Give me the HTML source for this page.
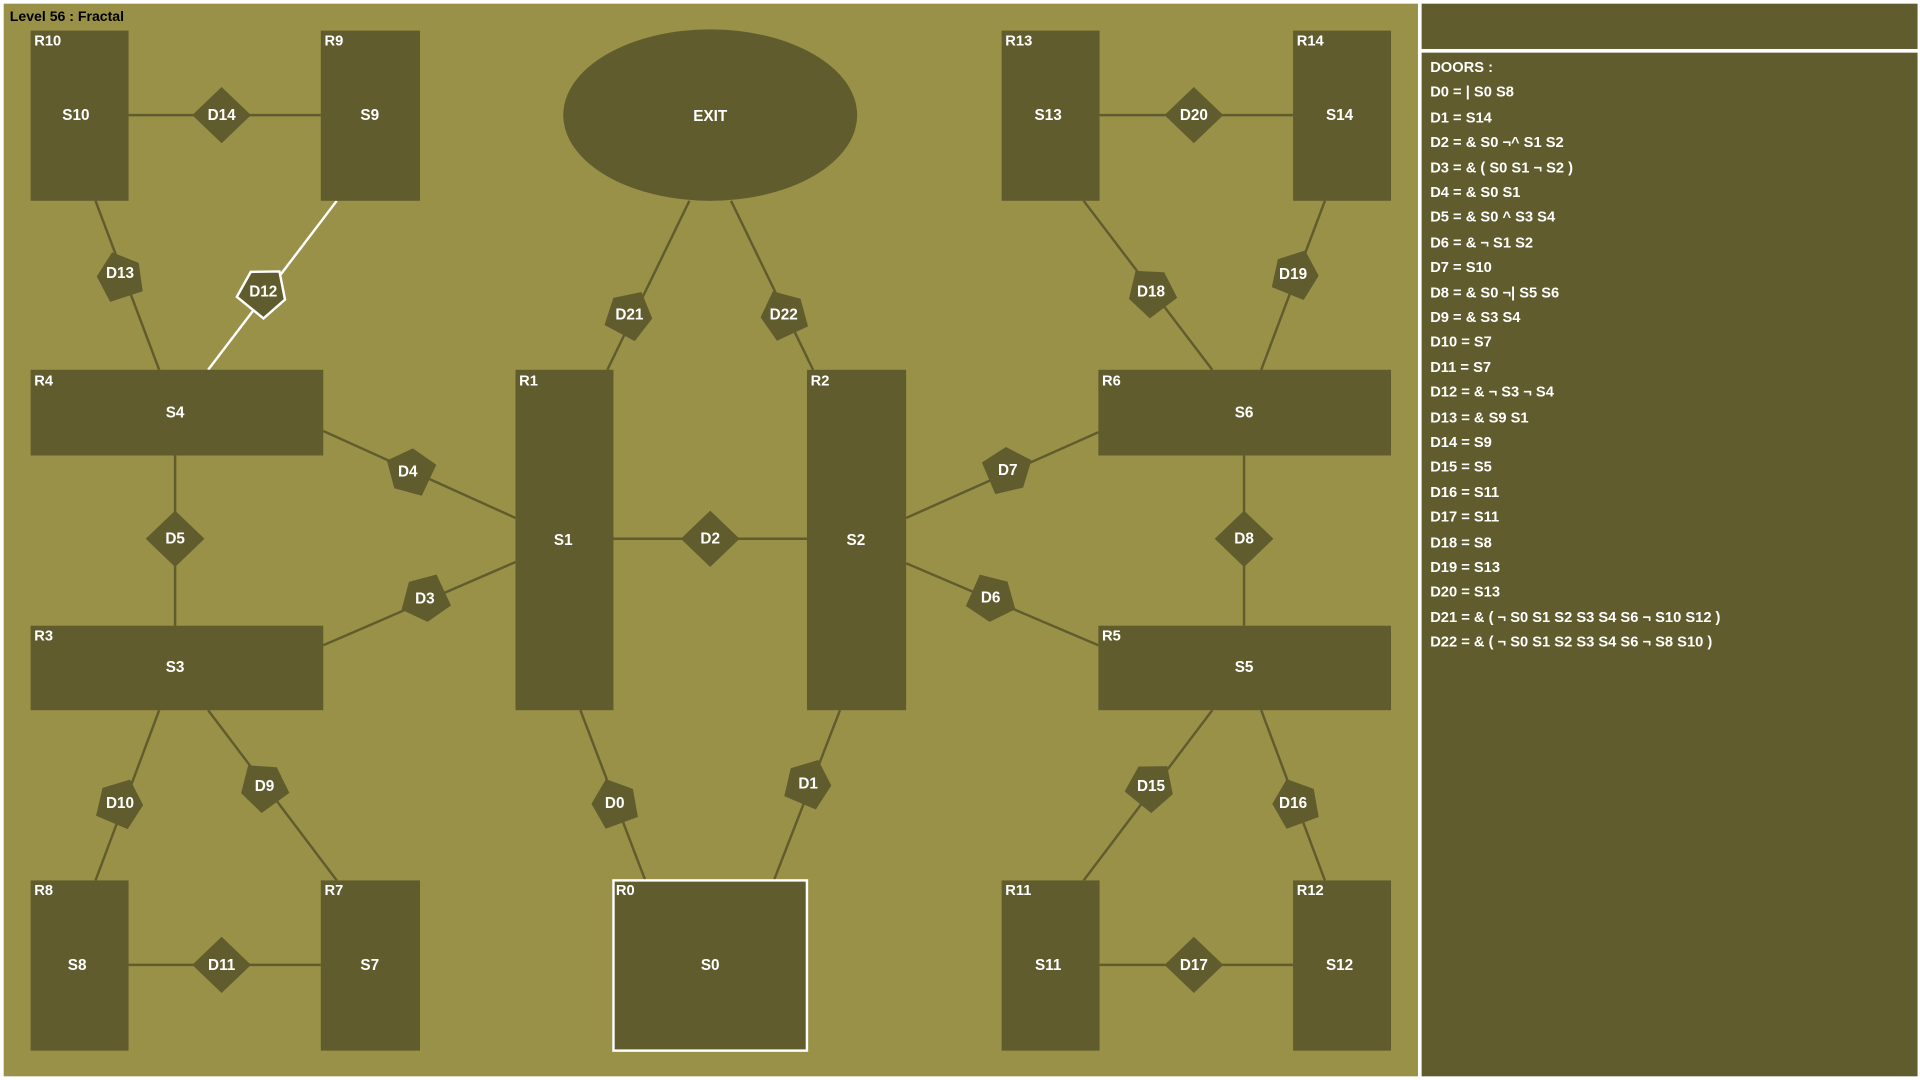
<!DOCTYPE html>
<html><head><meta charset="utf-8"><style>
html,body{margin:0;padding:0;background:#fff;width:1920px;height:1080px;overflow:hidden}
svg{display:block}
text{font-family:"Liberation Sans",sans-serif;font-weight:bold;fill:#fff}
</style></head><body>
<svg width="1920" height="1080" viewBox="0 0 1568 882" xmlns="http://www.w3.org/2000/svg">
<defs>
<path id="p" d="M21,0 L6,-18 L-17,-14 L-17,14 L6,18 Z" fill="#615c2e"/>
<path id="pw" d="M21,0 L6,-18 L-17,-14 L-17,14 L6,18 Z" fill="#615c2e" stroke="#fff" stroke-width="2"/>
<path id="d" d="M0,-23 L24,0 L0,23 L-24,0 Z" fill="#615c2e"/>
</defs>
<rect x="0" y="0" width="1568" height="882" fill="#fff"/>
<rect x="3" y="3" width="1155" height="876" fill="#999147"/>
<rect x="1161" y="3" width="405" height="37" fill="#615c2e"/>
<rect x="1161" y="43" width="405" height="836" fill="#615c2e"/>
<text x="8" y="17" font-size="11.5" style="fill:#000">Level 56 : Fractal</text>

<g stroke="#615c2e" stroke-width="2">
<line x1="105" y1="94" x2="262" y2="94"/>
<line x1="898" y1="94" x2="1056" y2="94"/>
<line x1="105" y1="788" x2="262" y2="788"/>
<line x1="898" y1="788" x2="1056" y2="788"/>
<line x1="143" y1="372" x2="143" y2="511"/>
<line x1="1016" y1="372" x2="1016" y2="511"/>
<line x1="501" y1="440" x2="659" y2="440"/>
<line x1="78" y1="164" x2="130" y2="302"/>
<line x1="563" y1="164" x2="496" y2="302"/>
<line x1="597" y1="164" x2="664" y2="302"/>
<line x1="885" y1="164" x2="990" y2="302"/>
<line x1="1082" y1="164" x2="1030" y2="302"/>
<line x1="264" y1="352" x2="421" y2="423"/>
<line x1="264" y1="527" x2="421" y2="459"/>
<line x1="897" y1="353" x2="740" y2="423"/>
<line x1="740" y1="460" x2="897" y2="527"/>
<line x1="130" y1="580" x2="78" y2="719"/>
<line x1="170" y1="580" x2="275" y2="719"/>
<line x1="474" y1="580" x2="527" y2="719"/>
<line x1="686" y1="580" x2="632" y2="719"/>
<line x1="990" y1="580" x2="885" y2="719"/>
<line x1="1030" y1="580" x2="1082" y2="719"/>
</g>
<line x1="275" y1="164" x2="170" y2="302" stroke="#fff" stroke-width="2"/>

<g fill="#615c2e">
<rect x="25" y="25" width="80" height="139"/>
<rect x="262" y="25" width="81" height="139"/>
<rect x="818" y="25" width="80" height="139"/>
<rect x="1056" y="25" width="80" height="139"/>
<ellipse cx="580" cy="94" rx="120" ry="70"/>
<rect x="25" y="302" width="239" height="70"/>
<rect x="421" y="302" width="80" height="278"/>
<rect x="659" y="302" width="81" height="278"/>
<rect x="897" y="302" width="239" height="70"/>
<rect x="25" y="511" width="239" height="69"/>
<rect x="897" y="511" width="239" height="69"/>
<rect x="25" y="719" width="80" height="139"/>
<rect x="262" y="719" width="81" height="139"/>
<rect x="501" y="719" width="158" height="139" stroke="#fff" stroke-width="2"/>
<rect x="818" y="719" width="80" height="139"/>
<rect x="1056" y="719" width="80" height="139"/>
</g>

<use href="#d" x="181" y="94"/>
<use href="#d" x="975" y="94"/>
<use href="#d" x="181" y="788"/>
<use href="#d" x="975" y="788"/>
<use href="#d" x="143" y="440"/>
<use href="#d" x="1016" y="440"/>
<use href="#d" x="580" y="440"/>
<use href="#p" transform="translate(98,226) rotate(-108)"/>
<use href="#pw" transform="translate(215,238) rotate(-51)"/>
<use href="#p" transform="translate(514,257) rotate(-62)"/>
<use href="#p" transform="translate(640,257) rotate(-115)"/>
<use href="#p" transform="translate(940,238) rotate(-127)"/>
<use href="#p" transform="translate(1058,224) rotate(-68)"/>
<use href="#p" transform="translate(335,385) rotate(-155)"/>
<use href="#p" transform="translate(347,489) rotate(155)"/>
<use href="#p" transform="translate(823,384) rotate(-23)"/>
<use href="#p" transform="translate(810,489) rotate(24)"/>
<use href="#p" transform="translate(98,656) rotate(-67)"/>
<use href="#p" transform="translate(215,642) rotate(-126)"/>
<use href="#p" transform="translate(502,656) rotate(-110)"/>
<use href="#p" transform="translate(660,640) rotate(-67)"/>
<use href="#p" transform="translate(940,642) rotate(-51)"/>
<use href="#p" transform="translate(1058,656) rotate(-110)"/>

<g font-size="12">
<text x="28" y="37">R10</text><text x="265" y="37">R9</text>
<text x="821" y="37">R13</text><text x="1059" y="37">R14</text>
<text x="28" y="315">R4</text><text x="424" y="315">R1</text>
<text x="662" y="315">R2</text><text x="900" y="315">R6</text>
<text x="28" y="523">R3</text><text x="900" y="523">R5</text>
<text x="28" y="731">R8</text><text x="265" y="731">R7</text>
<text x="503" y="731">R0</text><text x="821" y="731">R11</text>
<text x="1059" y="731">R12</text>
</g>
<g font-size="12.5" text-anchor="middle">
<text x="62" y="98">S10</text><text x="302" y="98">S9</text>
<text x="580" y="99">EXIT</text>
<text x="856" y="98">S13</text><text x="1094" y="98">S14</text>
<text x="143" y="341">S4</text><text x="460" y="445">S1</text>
<text x="699" y="445">S2</text><text x="1016" y="341">S6</text>
<text x="143" y="549">S3</text><text x="1016" y="549">S5</text>
<text x="63" y="792">S8</text><text x="302" y="792">S7</text>
<text x="580" y="792">S0</text><text x="856" y="792">S11</text>
<text x="1094" y="792">S12</text>
<text x="181" y="98">D14</text><text x="975" y="98">D20</text>
<text x="181" y="792">D11</text><text x="975" y="792">D17</text>
<text x="143" y="444">D5</text><text x="1016" y="444">D8</text>
<text x="580" y="444">D2</text>
<text x="98" y="227">D13</text><text x="215" y="242">D12</text>
<text x="514" y="261">D21</text><text x="640" y="261">D22</text>
<text x="940" y="242">D18</text><text x="1056" y="228">D19</text>
<text x="333" y="389">D4</text><text x="347" y="493">D3</text>
<text x="823" y="388">D7</text><text x="809" y="492">D6</text>
<text x="98" y="660">D10</text><text x="216" y="646">D9</text>
<text x="502" y="660">D0</text><text x="660" y="644">D1</text>
<text x="940" y="646">D15</text><text x="1056" y="660">D16</text>
</g>
<g font-size="12">
<text x="1168" y="59">DOORS :</text>
<text x="1168" y="79">D0 = | S0 S8</text>
<text x="1168" y="100">D1 = S14</text>
<text x="1168" y="120">D2 = &amp; S0 ¬^ S1 S2</text>
<text x="1168" y="141">D3 = &amp; ( S0 S1 ¬ S2 )</text>
<text x="1168" y="161">D4 = &amp; S0 S1</text>
<text x="1168" y="181">D5 = &amp; S0 ^ S3 S4</text>
<text x="1168" y="202">D6 = &amp; ¬ S1 S2</text>
<text x="1168" y="222">D7 = S10</text>
<text x="1168" y="243">D8 = &amp; S0 ¬| S5 S6</text>
<text x="1168" y="263">D9 = &amp; S3 S4</text>
<text x="1168" y="283">D10 = S7</text>
<text x="1168" y="304">D11 = S7</text>
<text x="1168" y="324">D12 = &amp; ¬ S3 ¬ S4</text>
<text x="1168" y="345">D13 = &amp; S9 S1</text>
<text x="1168" y="365">D14 = S9</text>
<text x="1168" y="385">D15 = S5</text>
<text x="1168" y="406">D16 = S11</text>
<text x="1168" y="426">D17 = S11</text>
<text x="1168" y="447">D18 = S8</text>
<text x="1168" y="467">D19 = S13</text>
<text x="1168" y="487">D20 = S13</text>
<text x="1168" y="508">D21 = &amp; ( ¬ S0 S1 S2 S3 S4 S6 ¬ S10 S12 )</text>
<text x="1168" y="528">D22 = &amp; ( ¬ S0 S1 S2 S3 S4 S6 ¬ S8 S10 )</text>
</g>
</svg>
</body></html>
